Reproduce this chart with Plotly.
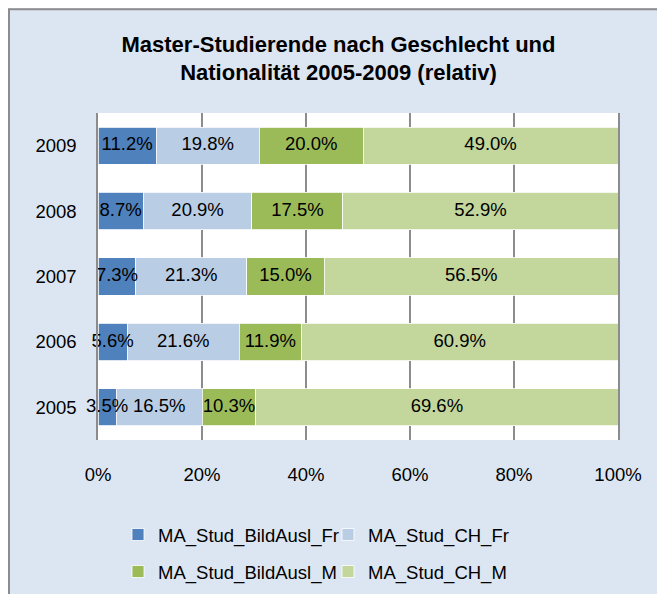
import plotly.graph_objects as go

years = ["2005", "2006", "2007", "2008", "2009"]
series_names = ["MA_Stud_BildAusl_Fr", "MA_Stud_CH_Fr", "MA_Stud_BildAusl_M", "MA_Stud_CH_M"]
bildausl_fr = [3.5, 5.6, 7.3, 8.7, 11.2]
ch_fr = [16.5, 21.6, 21.3, 20.9, 19.8]
bildausl_m = [10.3, 11.9, 15.0, 17.5, 20.0]
ch_m = [69.6, 60.9, 56.5, 52.9, 49.0]
x_tick_vals = [0, 20, 40, 60, 80, 100]
x_tick_labels = ["0%", "20%", "40%", "60%", "80%", "100%"]

colors = ["#4F81BD", "#B9CDE5", "#9BBB59", "#C3D69B"]
FONT = "Liberation Sans, Arial, sans-serif"
FS = 18.5

OFF = 8  # page offset of the figure inside the browser window
W, H = 665, 594
L, R, T, B = 98 - OFF, 665 - (618 - OFF), 113 - OFF, 594 - (441 - OFF)
pw, ph = W - L - R, H - T - B

def px_x(sx):
    return (sx - OFF - L) / pw

def px_y(sy):
    return (H - B - (sy - OFF)) / ph

values = [bildausl_fr, ch_fr, bildausl_m, ch_m]
legends = ["legend", "legend2", "legend3", "legend4"]
totals = [sum(v[i] for v in values) for i in range(len(years))]

fig = go.Figure()
for name, vals, col, lg in zip(series_names, values, colors, legends):
    fig.add_trace(go.Bar(
        y=years, x=vals, name=name, orientation="h",
        marker=dict(color=col, line=dict(color="white", width=0.8)),
        customdata=vals, hovertemplate="%{y}: %{customdata:.1f}%<extra>" + name + "</extra>",
        legend=lg,
    ))

# data labels, centred on each (100%-normalised) segment, drawn on top of all bars
cum = [0.0] * len(years)
for name, vals in zip(series_names, values):
    mids = []
    for i, v in enumerate(vals):
        mids.append((cum[i] + v / 2) / totals[i] * 100)
        cum[i] += v
    fig.add_trace(go.Scatter(
        y=years, x=mids, mode="text", text=[f"{v:.1f}%" for v in vals],
        textposition="middle center",
        textfont=dict(family=FONT, size=FS, color="#000000"),
        cliponaxis=False, showlegend=False, hoverinfo="skip",
    ))

def leg(sx, sy):
    return dict(
        orientation="h", x=px_x(sx), xanchor="left", y=px_y(sy), yanchor="middle",
        bgcolor="rgba(0,0,0,0)", font=dict(family=FONT, size=FS, color="#000000"),
    )

fig.update_layout(
    width=W, height=H,
    margin=dict(l=L, r=R, t=T, b=B, pad=0),
    barmode="stack", barnorm="percent", bargap=0.43,
    showlegend=True,
    paper_bgcolor="#DCE6F2", plot_bgcolor="white",
    font=dict(family=FONT, size=FS, color="#000000"),
    title=dict(
        text="<b>Master-Studierende nach Geschlecht und<br>Nationalität 2005-2009 (relativ)</b>",
        font=dict(family=FONT, size=22, color="#000000"),
        x=px_x(338.5), xref="paper", xanchor="center",
        y=1 - 43.5 / H, yref="container", yanchor="top",
    ),
    xaxis=dict(
        range=[0, 100], tickmode="array", tickvals=x_tick_vals, ticktext=x_tick_labels,
        showgrid=True, gridcolor="#8C8C8C", gridwidth=1.5,
        zeroline=False, showline=False, ticks="",
        ticklabelstandoff=21, fixedrange=True,
    ),
    yaxis=dict(
        type="category", categoryorder="array", categoryarray=years,
        showgrid=False, zeroline=False,
        showline=True, linecolor="#8C8C8C", linewidth=1.5, mirror=True,
        ticks="", ticklabelstandoff=16, fixedrange=True,
    ),
    legend=leg(118, 535),
    legend2=leg(328, 535),
    legend3=leg(118, 572),
    legend4=leg(328, 572),
    shapes=[dict(
        type="rect", xref="paper", yref="paper", layer="below",
        x0=px_x(OFF + 1), x1=px_x(760), y0=px_y(720), y1=px_y(OFF + 1),
        fillcolor="rgba(0,0,0,0)", line=dict(color="#8C8C8C", width=2),
    )],
)

fig.write_html("out.html")
